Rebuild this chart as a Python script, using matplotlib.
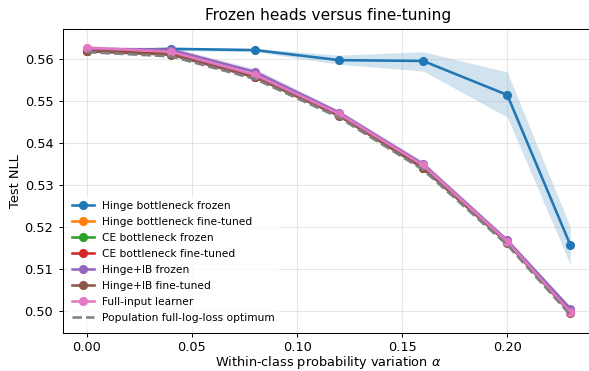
import numpy as np
import matplotlib
matplotlib.use("Agg")
import matplotlib.pyplot as plt

alphas = [0.00, 0.04, 0.08, 0.12, 0.16, 0.20, 0.23]

hinge_frozen = [0.5620, 0.5625, 0.5622, 0.5598, 0.5596, 0.5515, 0.5157]
hinge_frozen_lo = [0.5616, 0.5621, 0.5618, 0.5588, 0.5572, 0.5462, 0.5110]
hinge_frozen_hi = [0.5624, 0.5628, 0.5626, 0.5610, 0.5618, 0.5570, 0.5200]

hinge_ft = [0.5620, 0.5612, 0.5558, 0.5466, 0.5341, 0.5163, 0.4996]
ce_frozen = [0.5621, 0.5613, 0.5559, 0.5467, 0.5342, 0.5164, 0.4997]
ce_ft = [0.5620, 0.5612, 0.5558, 0.5466, 0.5341, 0.5163, 0.4996]
ib_frozen = [0.5625, 0.5623, 0.5570, 0.5473, 0.5350, 0.5168, 0.5005]
ib_frozen_lo = [0.5620, 0.5617, 0.5562, 0.5467, 0.5343, 0.5162, 0.4999]
ib_frozen_hi = [0.5630, 0.5629, 0.5578, 0.5479, 0.5357, 0.5174, 0.5011]
ib_ft = [0.5619, 0.5611, 0.5557, 0.5465, 0.5340, 0.5162, 0.4995]
full_input = [0.5628, 0.5618, 0.5563, 0.5470, 0.5347, 0.5165, 0.4996]
optimum = [0.5617, 0.5607, 0.5553, 0.5461, 0.5336, 0.5157, 0.4990]

# reference looks like it was rendered a bit smaller than 100 dpi
s = 0.925
plt.rcParams["font.size"] = 10 * s
plt.rcParams["axes.linewidth"] = 0.8 * s

fig = plt.figure(figsize=(5.89, 3.71), dpi=100)
ax = fig.add_axes([0.1065, 0.1032, 0.9028, 0.8194])

series = [
    ("Hinge bottleneck frozen", hinge_frozen, "C0"),
    ("Hinge bottleneck fine-tuned", hinge_ft, "C1"),
    ("CE bottleneck frozen", ce_frozen, "C2"),
    ("CE bottleneck fine-tuned", ce_ft, "C3"),
    ("Hinge+IB frozen", ib_frozen, "C4"),
    ("Hinge+IB fine-tuned", ib_ft, "C5"),
    ("Full-input learner", full_input, "C6"),
]

ax.fill_between(alphas, hinge_frozen_lo, hinge_frozen_hi, color="C0", alpha=0.2, linewidth=0)
ax.fill_between(alphas, ib_frozen_lo, ib_frozen_hi, color="C4", alpha=0.2, linewidth=0)

for name, vals, col in series:
    ax.plot(alphas, vals, marker="o", markersize=6 * s, linewidth=2 * s, color=col, label=name)

ax.plot(alphas, optimum, linestyle="--", color="gray", linewidth=2 * s,
        label="Population full-log-loss optimum")

ax.set_title("Frozen heads versus fine-tuning", fontsize=12 * s)
ax.set_xlabel(r"Within-class probability variation $\alpha$")
ax.set_ylabel("Test NLL")
ax.xaxis.set_label_coords(0.5, -0.071)
ax.yaxis.set_label_coords(-0.0765, 0.5)
ax.set_xlim(-0.0115, 0.2415)
ax.set_ylim(0.49475, 0.5673)
ax.tick_params(width=0.8 * s, length=3.5 * s)
ax.tick_params(axis="x", pad=2.4)
ax.grid(True, alpha=0.3)
leg = ax.legend(loc="lower left", fontsize=7.7, framealpha=0.8, labelspacing=0.56)
leg.get_frame().set_edgecolor("none")

fig.savefig("out.png", dpi=100)
